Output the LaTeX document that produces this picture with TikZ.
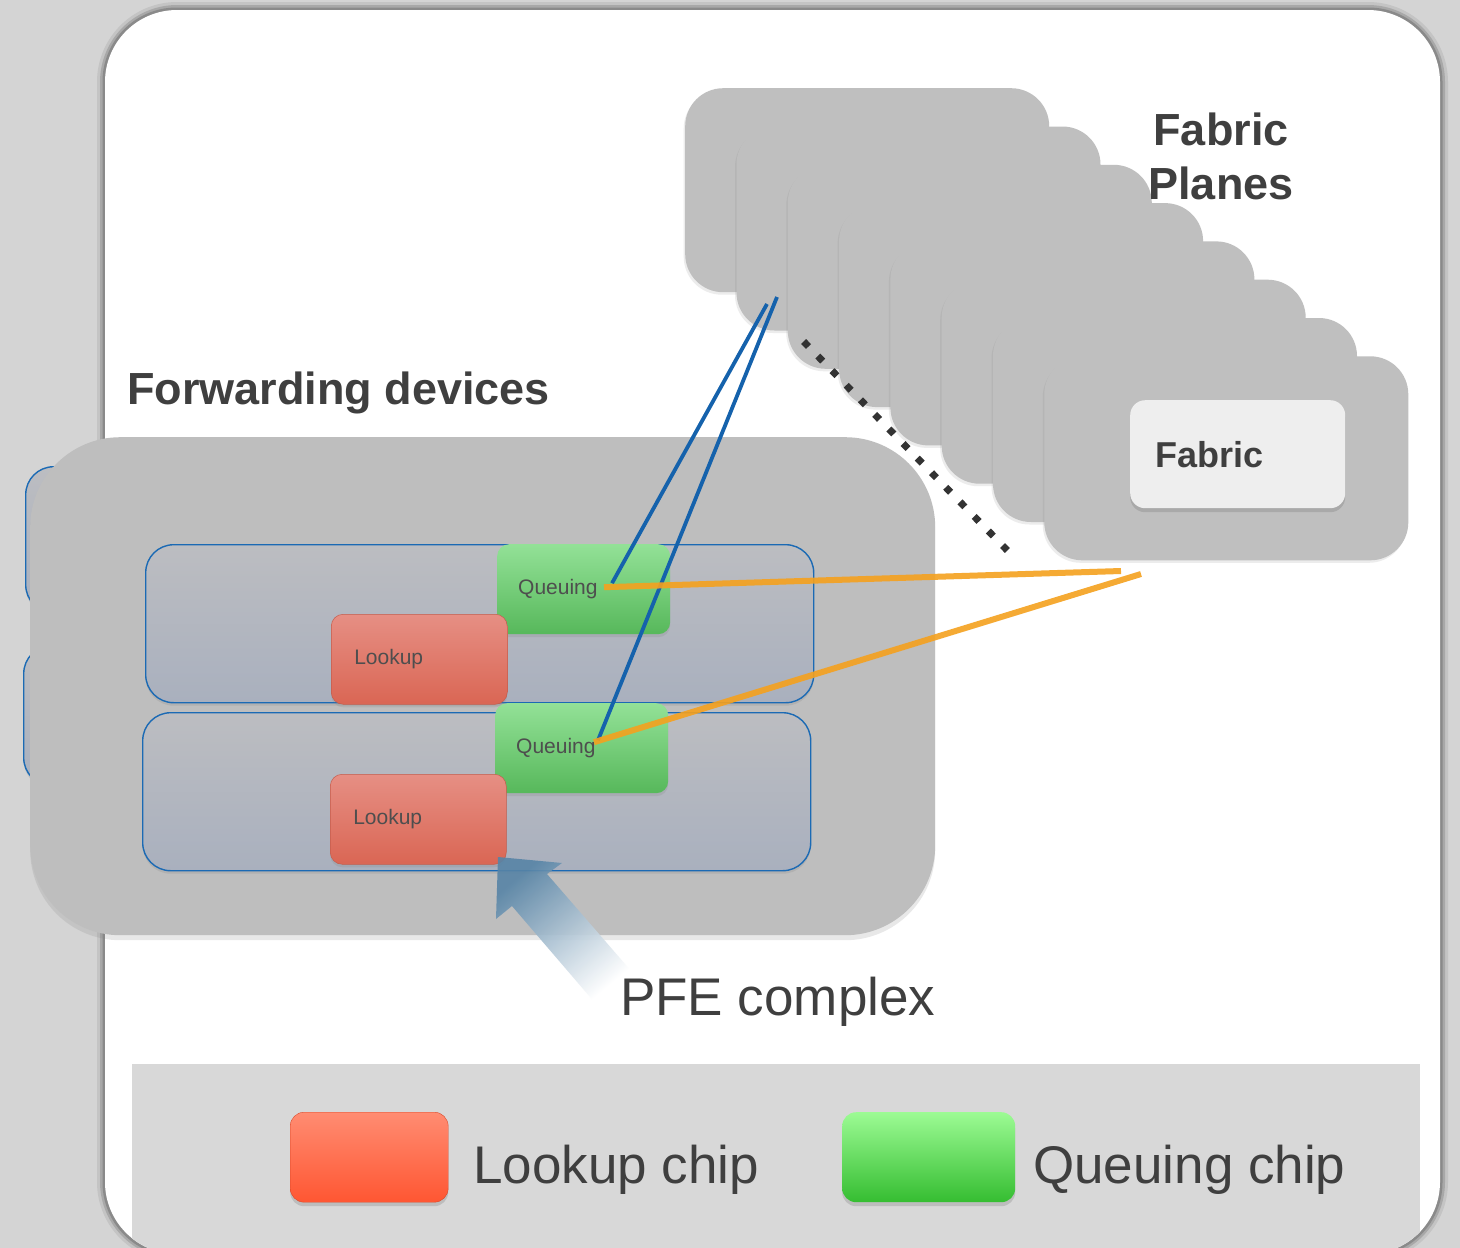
\documentclass[tikz,border=0pt]{standalone}
\usepackage{fontspec}
\setmainfont{Liberation Sans}
\usepackage{tikz}
\usetikzlibrary{positioning, calc, shadows}

\definecolor{canvasgray}{HTML}{D4D4D4}
\definecolor{glowA}{HTML}{C4C4C4}
\definecolor{glowB}{HTML}{A8A8A8}
\definecolor{glowC}{HTML}{8A8A8A}
\definecolor{bandgray}{HTML}{D8D8D8}
\definecolor{planegray}{HTML}{BFBFBF}
\definecolor{fabricfill}{HTML}{EEEEEE}
\definecolor{devicegray}{HTML}{BEBEBE}
\definecolor{cardtop}{HTML}{BCBDC1}
\definecolor{cardbot}{HTML}{A9B0BE}
\definecolor{cardline}{HTML}{1B6AB4}
\definecolor{qtop}{HTML}{93E197}
\definecolor{qbot}{HTML}{57B85B}
\definecolor{ltop}{HTML}{E68F84}
\definecolor{lbot}{HTML}{DA6654}
\definecolor{legltop}{HTML}{FF8C72}
\definecolor{leglbot}{HTML}{FF5632}
\definecolor{legqtop}{HTML}{9CFB94}
\definecolor{legqbot}{HTML}{35BD31}
\definecolor{linkblue}{HTML}{1562AC}
\definecolor{linkorange}{HTML}{F5A11E}
\definecolor{dotgray}{HTML}{333333}
\definecolor{arrowblue}{HTML}{5784A6}
\definecolor{inkgray}{HTML}{3F3F3F}
\definecolor{chipink}{HTML}{4E4E4E}

\newcommand{\labelbold}{\bfseries\fontsize{45}{54}\selectfont}
\newcommand{\labelfabric}{\bfseries\fontsize{36}{42}\selectfont}
\newcommand{\labelbig}{\fontsize{53}{60}\selectfont}
\newcommand{\labelchip}{\fontsize{21}{25}\selectfont}

\begin{document}
\begin{tikzpicture}[
    x=1pt, y=-1pt,
    softshadow/.style={drop shadow={shadow xshift=0pt, shadow yshift=-3pt, opacity=0.2}},
    plane/.style={fill=planegray, rounded corners=38pt, minimum width=364pt, minimum height=204pt,
        anchor=north west, inner sep=0pt,
        drop shadow={shadow xshift=-1.5pt, shadow yshift=-2.5pt, opacity=0.15}},
    fabricbox/.style={fill=fabricfill, rounded corners=15pt, minimum height=108pt, text width=165pt,
        inner xsep=25pt, align=left, anchor=north west, font=\labelfabric, text=inkgray,
        drop shadow={shadow xshift=0pt, shadow yshift=-4pt, opacity=0.35}},
    device/.style={fill=devicegray, rounded corners=90pt, minimum width=905pt, minimum height=498pt,
        anchor=north west, inner sep=0pt, drop shadow={shadow xshift=0pt, shadow yshift=-5pt, opacity=0.18}},
    card/.style={draw=cardline, line width=1.4pt, top color=cardtop, bottom color=cardbot,
        rounded corners=28pt, minimum width=668pt, minimum height=158pt, anchor=north west, inner sep=0pt, softshadow},
    chip/.style={rounded corners=12pt, minimum height=90pt, align=left, anchor=north west,
        font=\labelchip, text=chipink, softshadow},
    qchip/.style={chip, top color=qtop, bottom color=qbot, text width=131pt, inner xsep=21pt},
    lchip/.style={chip, top color=ltop, bottom color=lbot, draw=lbot!90!black, line width=0.5pt,
        text width=130pt, inner xsep=23pt},
    legchip/.style={rounded corners=14pt, minimum height=90pt, anchor=north west, inner sep=0pt,
        drop shadow={shadow xshift=0pt, shadow yshift=-4pt, opacity=0.3}},
    heading/.style={font=\labelbold, text=inkgray, inner sep=0pt},
    bigtext/.style={font=\labelbig, text=inkgray, inner sep=0pt, anchor=base west},
    bluelink/.style={draw=linkblue, line width=3.8pt},
    orangelink/.style={draw=linkorange, line width=6pt, opacity=0.9},
    dotline/.style={draw=dotgray, line width=7pt, dash pattern=on 7pt off 13.36pt}
]
    \useasboundingbox (0,0) rectangle (1460,1248);
    \fill[canvasgray] (0,0) rectangle (1460,1248);

    % frame with soft edge
    \fill[glowA, rounded corners=80pt] (97,2) rectangle (1448,1262);
    \fill[glowB, rounded corners=77pt] (100,5) rectangle (1445,1259);
    \fill[glowC, rounded corners=74pt] (102.5,7.5) rectangle (1442.5,1256.5);
    \fill[white, rounded corners=72pt] (105,10) rectangle (1440,1254);

    % legend
    \begin{scope}
        \clip[rounded corners=72pt] (105,10) rectangle (1440,1254);
        \fill[bandgray] (132,1064) rectangle (1420,1260);
    \end{scope}
    \node[legchip, top color=legltop, bottom color=leglbot, draw=leglbot!85!black, minimum width=158pt] (legL) at (290,1112) {};
    \node[bigtext] (legLtext) at (473,1183) {Lookup chip};
    \node[legchip, top color=legqtop, bottom color=legqbot, minimum width=173pt] (legQ) at (842,1112) {};
    \node[bigtext] (legQtext) at (1033,1183) {Queuing chip};

    % fabric planes
    \foreach \i in {0,...,7}
        \node[plane] (plane\i) at ({685+51.3*\i},{88+38.3*\i}) {};
    \node[fabricbox] (fabric) at (1130,400) {Fabric};
    \node[heading, align=center, anchor=base] (planes) at (1221,199) {Fabric\\Planes};

    \coordinate (dotstart) at (803.6,341.5);
    \coordinate (dotend) at (1007.4,550.5);
    \draw[dotline] (dotstart) -- (dotend);

    % forwarding devices
    \node[card, minimum width=400pt, minimum height=146pt] (backA) at (25,466) {};
    \node[card, minimum width=400pt, minimum height=140pt] (backB) at (23,645) {};
    \node[device] (fwd) at (30,437) {};
    \node[heading, anchor=base west] (fwdtitle) at (127,404) {Forwarding devices};

    \node[card] (card1) at (145,544) {};
    \node[qchip] (q1) at (497,544) {Queuing};
    \node[lchip] (l1) at (331,614) {Lookup};
    \node[card] (card2) at (142,712) {};
    \node[qchip] (q2) at (495,703) {Queuing};
    \node[lchip] (l2) at (330,774) {Lookup};

    % links to the fabric
    \coordinate (bluetop1) at (767,304);
    \coordinate (bluetop2) at (777,297);
    \coordinate (orangeend1) at (1121,571);
    \coordinate (orangeend2) at (1141,574);
    \draw[bluelink] (bluetop1) -- ($(q1.west)+(115,-6)$);
    \draw[bluelink] (bluetop2) -- ($(q2.west)+(103,-8)$);
    \draw[orangelink] ($(q1.west)+(107,-2)$) -- (orangeend1);
    \draw[orangelink] ($(q2.west)+(99,-6)$) -- (orangeend2);

    % PFE complex pointer
    \shade[top color=arrowblue, middle color=arrowblue!60!white, bottom color=white, shading angle=40, opacity=0.9]
        (498,857) -- (562,863) -- (547,874) -- (632,972) -- (596,1004) -- (512,906) -- (496,919) -- cycle;
    \node[bigtext] (pfe) at (620,1015) {PFE complex};
\end{tikzpicture}
\end{document}
